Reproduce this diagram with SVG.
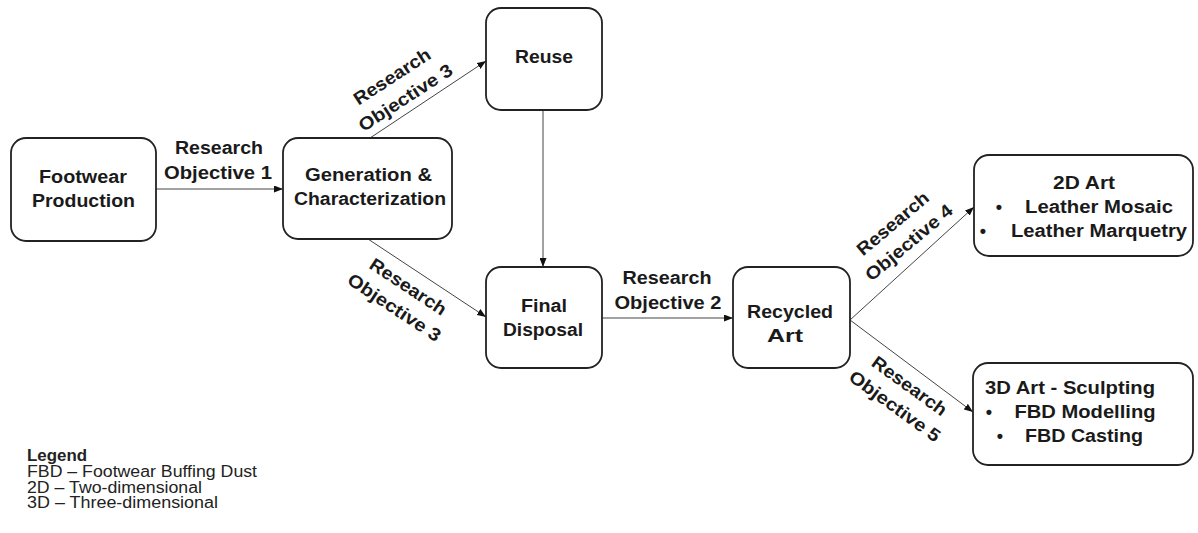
<svg xmlns="http://www.w3.org/2000/svg" width="1198" height="533" viewBox="0 0 1198 533">
<defs>
<marker id="arr" viewBox="0 0 9 7" refX="9" refY="3.5" markerWidth="9" markerHeight="7" markerUnits="userSpaceOnUse" orient="auto">
<path d="M0,0 L9,3.5 L0,7 z" fill="#111"/>
</marker>
<style>
.box{fill:#fff;stroke:#222;stroke-width:1.8}
.t{font-family:"Liberation Sans",Arial,sans-serif;font-weight:bold;font-size:18px;fill:#1a1a1a;text-anchor:middle}
.b{font-family:"Liberation Sans",Arial,sans-serif;font-weight:bold;font-size:18px;fill:#1a1a1a;text-anchor:middle}
.c{fill:none;stroke:#444;stroke-width:1;marker-end:url(#arr)}
.lg{font-family:"Liberation Sans",Arial,sans-serif;font-size:16px;fill:#222}
</style>
</defs>
<rect width="1198" height="533" fill="#fff"/>

<g id="connectors">
<line class="c" x1="156" y1="189" x2="283" y2="189"/>
<line class="c" x1="370" y1="138" x2="486" y2="61"/>
<line class="c" x1="368" y1="239" x2="486" y2="317"/>
<line class="c" x1="543" y1="110" x2="543" y2="267"/>
<line class="c" x1="602" y1="318" x2="733" y2="318"/>
<line class="c" x1="850" y1="320" x2="974" y2="207"/>
<line class="c" x1="850" y1="320" x2="973" y2="412"/>
</g>

<g id="labels">
<g id="ro1">
<text class="t" x="219" y="154" textLength="88" lengthAdjust="spacingAndGlyphs">Research</text>
<text class="t" x="218" y="179" textLength="108" lengthAdjust="spacingAndGlyphs">Objective 1</text>
</g>
<g id="ro2">
<text class="t" x="667" y="284" textLength="89" lengthAdjust="spacingAndGlyphs">Research</text>
<text class="t" x="668" y="309" textLength="107" lengthAdjust="spacingAndGlyphs">Objective 2</text>
</g>
<g id="ro3a" transform="translate(398,86) rotate(-33)">
<text class="t" x="0" y="-5" textLength="88" lengthAdjust="spacingAndGlyphs">Research</text>
<text class="t" x="0" y="20" textLength="108" lengthAdjust="spacingAndGlyphs">Objective 3</text>
</g>
<g id="ro3b" transform="translate(402,296) rotate(33.5)">
<text class="t" x="0" y="-5" textLength="88" lengthAdjust="spacingAndGlyphs">Research</text>
<text class="t" x="0" y="20" textLength="108" lengthAdjust="spacingAndGlyphs">Objective 3</text>
</g>
<g id="ro4" transform="translate(900,232) rotate(-40)">
<text class="t" x="0" y="-5" textLength="88" lengthAdjust="spacingAndGlyphs">Research</text>
<text class="t" x="0" y="20" textLength="108" lengthAdjust="spacingAndGlyphs">Objective 4</text>
</g>
<g id="ro5" transform="translate(903,395) rotate(36)">
<text class="t" x="0" y="-5" textLength="88" lengthAdjust="spacingAndGlyphs">Research</text>
<text class="t" x="0" y="20" textLength="108" lengthAdjust="spacingAndGlyphs">Objective 5</text>
</g>
</g>

<g id="footwear">
<rect class="box" x="11" y="138" width="145" height="103" rx="15"/>
<text class="b" x="83" y="183" textLength="88" lengthAdjust="spacingAndGlyphs">Footwear</text>
<text class="b" x="83.5" y="207" textLength="103" lengthAdjust="spacingAndGlyphs">Production</text>
</g>

<g id="generation">
<rect class="box" x="283" y="138" width="169" height="101" rx="15"/>
<text class="b" x="368.5" y="181" textLength="127" lengthAdjust="spacingAndGlyphs">Generation &amp;</text>
<text class="b" x="370" y="205" textLength="152" lengthAdjust="spacingAndGlyphs">Characterization</text>
</g>

<g id="reuse">
<rect class="box" x="486" y="8" width="116" height="102" rx="15"/>
<text class="b" x="544" y="63" textLength="58" lengthAdjust="spacingAndGlyphs">Reuse</text>
</g>

<g id="disposal">
<rect class="box" x="486" y="267" width="116" height="101" rx="15"/>
<text class="b" x="544" y="312" textLength="46" lengthAdjust="spacingAndGlyphs">Final</text>
<text class="b" x="543" y="336" textLength="80" lengthAdjust="spacingAndGlyphs">Disposal</text>
</g>

<g id="recycled">
<rect class="box" x="733" y="267" width="117" height="101" rx="15"/>
<text class="b" x="790" y="318" textLength="86" lengthAdjust="spacingAndGlyphs">Recycled</text>
<text class="b" x="785" y="342" textLength="36" lengthAdjust="spacingAndGlyphs">Art</text>
</g>

<g id="art2d">
<rect class="box" x="974" y="155" width="219" height="101" rx="15"/>
<text class="b" x="1084" y="189" textLength="62" lengthAdjust="spacingAndGlyphs">2D Art</text>
<text class="b" x="999" y="213">•</text>
<text class="b" x="1099" y="213" textLength="148" lengthAdjust="spacingAndGlyphs">Leather Mosaic</text>
<text class="b" x="983" y="237">•</text>
<text class="b" x="1099" y="237" textLength="176" lengthAdjust="spacingAndGlyphs">Leather Marquetry</text>
</g>

<g id="art3d">
<rect class="box" x="973" y="363" width="220" height="102" rx="15"/>
<text class="b" x="1070" y="394" textLength="170" lengthAdjust="spacingAndGlyphs">3D Art - Sculpting</text>
<text class="b" x="989" y="418">•</text>
<text class="b" x="1085" y="418" textLength="141" lengthAdjust="spacingAndGlyphs">FBD Modelling</text>
<text class="b" x="1000" y="442">•</text>
<text class="b" x="1084" y="442" textLength="118" lengthAdjust="spacingAndGlyphs">FBD Casting</text>
</g>

<g id="legend">
<text class="lg" x="27" y="461" font-weight="bold" textLength="60" lengthAdjust="spacingAndGlyphs">Legend</text>
<text class="lg" x="27" y="477" textLength="230" lengthAdjust="spacingAndGlyphs">FBD – Footwear Buffing Dust</text>
<text class="lg" x="27" y="493" textLength="175" lengthAdjust="spacingAndGlyphs">2D – Two-dimensional</text>
<text class="lg" x="27" y="508" textLength="191" lengthAdjust="spacingAndGlyphs">3D – Three-dimensional</text>
</g>
</svg>
